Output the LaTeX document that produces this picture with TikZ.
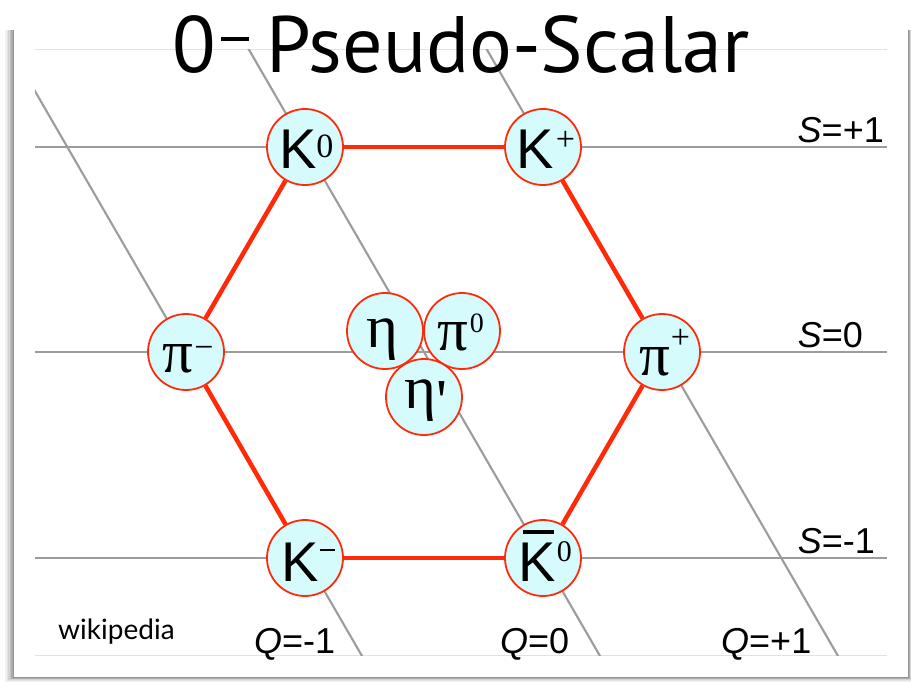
\documentclass[tikz,border=0pt]{standalone}
\usepackage{fontspec}
\setmainfont{Liberation Sans}
\newfontfamily\lsans{Liberation Sans}
\newfontfamily\lserif{Liberation Serif}[Ligatures=TeXOff]
\newfontfamily\ttlfont{PT Sans}
\newfontfamily\wikifont{Lato}
\definecolor{nodefill}{HTML}{D6FBFD}
\definecolor{hexred}{HTML}{FF2A0A}
\definecolor{gridgray}{HTML}{9C9C9C}
\definecolor{framegray}{HTML}{E2E2E2}
\newcommand\fs[1]{\fontsize{#1}{#1}\selectfont}
% zero-width text box: #1 start offset from centre, #2 = twice the baseline offset
\newcommand\inbox[3]{\raisebox{0pt}[#2][0pt]{\makebox[0pt][l]{\hspace*{#1}#3}}}
\newcommand\KK{{\lsans\fs{56}K}}
\newcommand\supr[3]{\raisebox{#1}{\lserif\fs{#2}#3}}
\newcommand\GR[1]{{\lserif\fs{61}#1}}
\pgfdeclarelayer{shadowlayer}
\pgfdeclarelayer{lines}
\pgfsetlayers{shadowlayer,lines,main}
\tikzset{
  meson/.style={circle, draw=hexred, fill=nodefill, line width=1.8pt, minimum size=76pt, inner sep=0pt},
  hexedge/.style={draw=hexred, line width=4.5pt},
  gridline/.style={draw=gridgray, line width=2.1pt},
  frameline/.style={draw=framegray, line width=1pt},
  axislabel/.style={inner sep=0pt, font=\lsans\fs{36}},
}
\begin{document}
\begin{tikzpicture}[x=1pt, y=-1pt]
\useasboundingbox (0,0) rectangle (911,681);
% card with shadow
\begin{pgfonlayer}{shadowlayer}
  \foreach \d/\o in {9/0.05, 7.5/0.06, 6/0.07, 4.5/0.09, 3/0.11, 1.5/0.14}
    \fill[black, opacity=\o] (14-\d, 30) rectangle (908+\d/2, 677+\d/2);
  \fill[white] (14,27) rectangle (908,677);
\end{pgfonlayer}

% meson nodes
\node[meson] (K0)  at (305,147) {\inbox{-26pt}{42pt}{\KK\supr{11pt}{34}{0}}};
\node[meson] (Kp)  at (543,147) {\inbox{-27pt}{42pt}{\KK\kern2.5pt\supr{18pt}{34}{+}}};
\node[meson] (pim) at (186,352) {\inbox{-24pt}{40pt}{\GR{π}\kern1.5pt\supr{13.5pt}{34}{−}}};
\node[meson] (pip) at (662,352) {\inbox{-23pt}{46pt}{\GR{π}\kern1pt\supr{27pt}{34}{+}}};
\node[meson] (Km)  at (305,558) {\inbox{-24pt}{46pt}{\KK\kern1.6pt\rule[30pt]{15pt}{2pt}}};
\node[meson] (Kb0) at (543,558) {\inbox{-25pt}{46pt}{\rlap{\hspace*{5pt}\rule[47pt]{31pt}{4pt}}\KK\kern1.6pt\supr{20pt}{30}{0}}};
\node[meson] (eta) at (385,331) {\inbox{-19pt}{32pt}{\GR{η}}};
\node[meson] (pi0) at (462,331) {\inbox{-25pt}{38pt}{\GR{π}\kern2pt\supr{18pt}{28}{0}}};
\node[meson] (etap) at (424,397) {\inbox{-20pt}{22pt}{\GR{η}\kern1pt\raisebox{-13pt}{\GR{\symbol{39}}}}};

% grid and hexagon
\begin{pgfonlayer}{lines}
  \draw[frameline] (35,49) -- (887,49);
  \draw[frameline] (35,655) -- (887,655);
  \draw[gridline] (35,147) -- (887,147);
  \draw[gridline] (35,352) -- (887,352);
  \draw[gridline] (35,558) -- (887,558);
  \begin{scope}
    \clip (35,49) rectangle (887,655);
    \draw[gridline] (186-0.579*420,352-420) -- (186+0.579*420,352+420);
    \draw[gridline] (424-0.579*420,352-420) -- (424+0.579*420,352+420);
    \draw[gridline] (662-0.579*420,352-420) -- (662+0.579*420,352+420);
  \end{scope}
  \draw[hexedge] (K0) -- (Kp);
  \draw[hexedge] (Kp) -- (pip);
  \draw[hexedge] (pip) -- (Kb0);
  \draw[hexedge] (Kb0) -- (Km);
  \draw[hexedge] (Km) -- (pim);
  \draw[hexedge] (pim) -- (K0);
\end{pgfonlayer}

% axis labels
\node[axislabel, anchor=base east] (s1) at (884,142) {\textit{S}=+1};
\node[axislabel, anchor=base east] (s0) at (863,347) {\textit{S}=0};
\node[axislabel, anchor=base east] (sm) at (875,553) {\textit{S}=-1};
\node[axislabel, anchor=base west] (qm) at (254,653) {\textit{Q}=-1};
\node[axislabel, anchor=base west] (q0) at (500,653) {\textit{Q}=0};
\node[axislabel, anchor=base west] (qp) at (721,653) {\textit{Q}=+1};

% credit and title
\node[anchor=base west, inner sep=0pt] (wiki) at (58,639) {\wikifont\fs{28}wikipedia};
\node[anchor=base west, inner sep=0pt] (title) at (172,72)
  {\ttlfont\fs{80}0\kern5pt\rule[31pt]{28pt}{4.5pt}\kern18pt Pseudo-Scalar};
\end{tikzpicture}
\end{document}
